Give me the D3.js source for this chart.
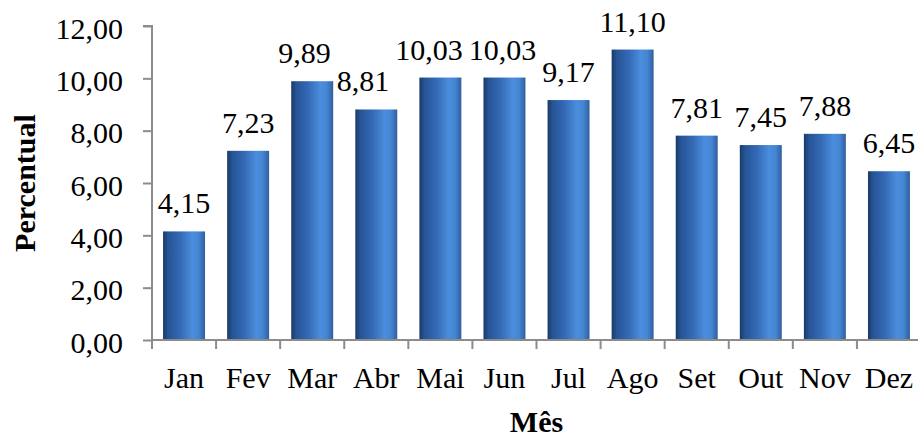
<!DOCTYPE html>
<html>
<head>
<meta charset="utf-8">
<script src="https://cdn.jsdelivr.net/npm/d3@7"></script>
</head>
<body style="margin:0;padding:0;background:#fff">
<svg id="chart" width="918" height="439" style="display:block"></svg>
<script>
const months = ["Jan","Fev","Mar","Abr","Mai","Jun","Jul","Ago","Set","Out","Nov","Dez"];
const values = [4.15, 7.23, 9.89, 8.81, 10.03, 10.03, 9.17, 11.10, 7.81, 7.45, 7.88, 6.45];
const yTicks = [0, 2, 4, 6, 8, 10, 12];
const yTitle = "Percentual";
const xTitle = "Mês";

const FONT = "Liberation Serif";
const fmt = v => v.toFixed(2).replace(".", ",");

const svg = d3.select("#chart");
const mLeft = 152, mRight = 921, mTop = 26, mBottom = 340;

const x = d3.scaleBand().domain(months).range([mLeft, mRight]).paddingInner(0.345).paddingOuter(0.1725);
const xTickScale = d3.scaleBand().domain(months).range([mLeft, mRight]);
const y = d3.scaleLinear().domain([0, 12]).range([mBottom, mTop]);

const defs = svg.append("defs");
const grad = defs.append("linearGradient").attr("id", "barGrad")
  .attr("x1", "0%").attr("x2", "100%").attr("y1", "0%").attr("y2", "0%");
[["0%", "#1b3a66"], ["12%", "#265496"], ["40%", "#3469b4"], ["70%", "#4a8ede"], ["85%", "#4585d3"], ["100%", "#2f5f9f"]]
  .forEach(([o, c]) => grad.append("stop").attr("offset", o).attr("stop-color", c));

// bars
svg.append("g").selectAll("rect").data(values).join("rect")
  .attr("x", (d, i) => x(months[i]))
  .attr("width", x.bandwidth())
  .attr("y", d => y(d))
  .attr("height", d => y(0) - y(d))
  .attr("fill", "url(#barGrad)");

// y axis
const yAxis = svg.append("g").attr("transform", `translate(${mLeft},0)`)
  .call(d3.axisLeft(y).tickValues(yTicks).tickFormat(fmt).tickSize(9).tickPadding(20));
yAxis.select(".domain").attr("stroke", "#8c8c8c").attr("stroke-width", 2)
  .attr("d", `M-9,${mTop}H0V${mBottom}`);
yAxis.selectAll(".tick line").attr("stroke", "#8c8c8c").attr("stroke-width", 2);
yAxis.selectAll(".tick text").style("font-family", FONT)
  .style("font-size", "30px").attr("fill", "#000").attr("dy", "0.34em").attr("y", 2);

// x axis
const xAxis = svg.append("g").attr("transform", `translate(0,${mBottom})`);
xAxis.append("line").attr("x1", mLeft).attr("x2", mRight).attr("y1", 0).attr("y2", 0)
  .attr("stroke", "#8c8c8c").attr("stroke-width", 2);
const boundaries = months.map(m => xTickScale(m)).concat([mRight]);
xAxis.selectAll("line.tk").data(boundaries).join("line").attr("class", "tk")
  .attr("x1", d => d).attr("x2", d => d).attr("y1", 0).attr("y2", 9)
  .attr("stroke", "#8c8c8c").attr("stroke-width", 2);
xAxis.selectAll("text.lbl").data(months).join("text").attr("class", "lbl")
  .attr("x", d => x(d) + x.bandwidth() / 2)
  .attr("y", 48)
  .attr("text-anchor", "middle")
  .style("font-family", FONT).style("font-size", "30px").attr("fill", "#000")
  .text(d => d);

// data labels
const labels = svg.append("g").selectAll("text").data(values).join("text")
  .attr("x", (d, i) => x(months[i]) + x.bandwidth() / 2)
  .attr("y", d => y(d) - 18)
  .attr("text-anchor", "middle")
  .style("font-family", FONT).style("font-size", "30px").attr("fill", "#000")
  .text(fmt);

// resolve overlapping labels by nudging the left one
const nodes = labels.nodes();
for (let i = nodes.length - 2; i >= 0; i--) {
  const a = nodes[i].getBBox(), b = nodes[i + 1].getBBox();
  const vOverlap = a.y < b.y + b.height && b.y < a.y + a.height;
  if (vOverlap && a.x + a.width > b.x - 6) {
    const shift = a.x + a.width - (b.x - 6);
    d3.select(nodes[i]).attr("x", +nodes[i].getAttribute("x") - shift);
  }
}

// titles
svg.append("text")
  .attr("transform", `translate(35,${(mTop + mBottom) / 2}) rotate(-90)`)
  .attr("text-anchor", "middle")
  .style("font-family", FONT).style("font-size", "30px").style("font-weight", "bold").attr("fill", "#000")
  .text(yTitle);
svg.append("text")
  .attr("x", (mLeft + mRight) / 2).attr("y", 432)
  .attr("text-anchor", "middle")
  .style("font-family", FONT).style("font-size", "30px").style("font-weight", "bold").attr("fill", "#000")
  .text(xTitle);
</script>
</body>
</html>
